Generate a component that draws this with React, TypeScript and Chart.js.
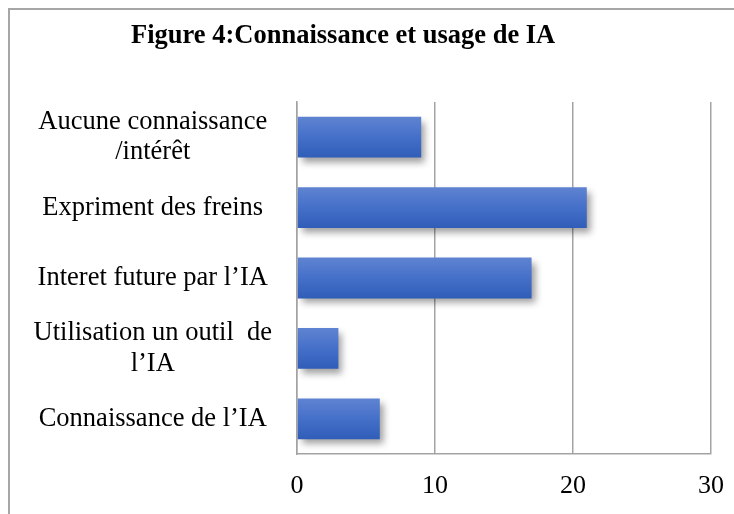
import React, { useEffect, useRef } from "react";
import { Chart, registerables } from "chart.js";

Chart.register(...registerables);

const TITLE = "Figure 4:Connaissance et usage de IA";
const CATEGORIES: (string | string[])[] = [
  ["Aucune connaissance", "/intérêt"],
  "Expriment des freins",
  "Interet future par l\u2019IA",
  ["Utilisation un outil  de", "l\u2019IA"],
  "Connaissance de l\u2019IA",
];
const VALUES = [9, 21, 17, 3, 6];
const X_MIN = 0;
const X_MAX = 30;
const X_STEP = 10;

const FONT = "'Liberation Serif', 'Times New Roman', serif";
const GRID = "#a3a3a3";
const BAR_PCT = 0.58;

const shadowPlugin = {
  id: "barShadow",
  beforeDatasetsDraw(chart: any) {
    const ctx = chart.ctx;
    ctx.save();
    ctx.shadowColor = "rgba(0,0,0,0.38)";
    ctx.shadowBlur = 7;
    ctx.shadowOffsetX = 4;
    ctx.shadowOffsetY = 5;
  },
  afterDatasetsDraw(chart: any) {
    chart.ctx.restore();
  },
};

const titlePlugin = {
  id: "fixedTitle",
  afterDraw(chart: any) {
    const ctx = chart.ctx;
    ctx.save();
    ctx.font = `bold 26.5px ${FONT}`;
    ctx.fillStyle = "#000";
    ctx.textAlign = "left";
    ctx.textBaseline = "alphabetic";
    ctx.fillText(TITLE, 131, 43);
    ctx.restore();
  },
};

function barGradient(context: any) {
  const chart = context.chart;
  const yScale = chart.scales && chart.scales.y;
  if (!yScale || !chart.chartArea) return "#4472c4";
  const center = yScale.getPixelForValue(context.dataIndex);
  const band = (chart.chartArea.bottom - chart.chartArea.top) / CATEGORIES.length;
  const h = band * BAR_PCT;
  const g = chart.ctx.createLinearGradient(0, center - h / 2, 0, center + h / 2);
  g.addColorStop(0, "#5f83d1");
  g.addColorStop(0.5, "#4570c9");
  g.addColorStop(1, "#2f5db8");
  return g;
}

export default function App() {
  const ref = useRef<HTMLCanvasElement | null>(null);

  useEffect(() => {
    if (!ref.current) return;
    const chart = new Chart(ref.current, {
      type: "bar",
      data: {
        labels: CATEGORIES,
        datasets: [
          {
            data: VALUES,
            backgroundColor: barGradient,
            borderWidth: 0,
            barPercentage: BAR_PCT,
            categoryPercentage: 1,
          },
        ],
      },
      options: {
        indexAxis: "y",
        animation: false,
        responsive: false,
        maintainAspectRatio: false,
        layout: { padding: { top: 102, right: 23, bottom: 0, left: 8 } },
        plugins: {
          legend: { display: false },
          title: { display: false },
          tooltip: { enabled: false },
        },
        scales: {
          x: {
            min: X_MIN,
            max: X_MAX,
            ticks: {
              stepSize: X_STEP,
              color: "#000",
              padding: 17,
              font: { family: FONT, size: 26 },
            },
            grid: { color: GRID, lineWidth: 1.5, drawTicks: false },
            border: { color: GRID, width: 1.5 },
            afterFit(scale: any) {
              scale.height = 60;
              scale.paddingRight = 0;
              scale.paddingLeft = 0;
            },
          },
          y: {
            ticks: {
              color: "#000",
              padding: 25,
              crossAlign: "center",
              font: { family: FONT, size: 26.5, lineHeight: 1.15 },
            },
            grid: { display: false, drawTicks: false },
            border: { color: GRID, width: 1.5 },
            afterFit(scale: any) {
              scale.width = 289;
              scale.paddingTop = 0;
              scale.paddingBottom = 0;
            },
          },
        },
      } as any,
      plugins: [shadowPlugin, titlePlugin],
    });
    return () => chart.destroy();
  }, []);

  return (
    <div
      style={{
        position: "fixed",
        left: 0,
        top: 0,
        width: 734,
        height: 514,
        background: "#fff",
        overflow: "hidden",
      }}
    >
      <div
        style={{
          position: "absolute",
          left: 8,
          top: 8,
          width: 800,
          height: 600,
          borderLeft: "2px solid #a6a6a6",
          borderTop: "2px solid #a6a6a6",
        }}
      />
      <canvas
        ref={ref}
        width={734}
        height={514}
        style={{ position: "absolute", left: 0, top: 0, width: 734, height: 514 }}
      />
    </div>
  );
}
